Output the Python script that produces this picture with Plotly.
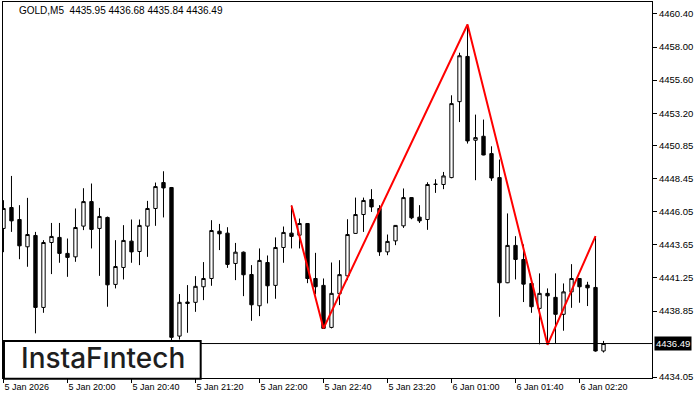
import plotly.graph_objects as go

# ---- data (GOLD, M5) ----
open_ = [4444.84, 4446.36, 4445.49, 4443.51, 4444.33, 4439.11, 4443.82, 4444.19, 4443.03, 4442.78,
         4445.01, 4446.79, 4444.84, 4445.64, 4440.78, 4442.01, 4443.92, 4443.17, 4445.01, 4446.29,
         4448.17, 4447.81, 4437.03, 4439.50, 4439.48, 4440.61, 4441.21, 4444.64, 4444.50, 4442.30,
         4443.12, 4441.50, 4439.23, 4442.37, 4440.71, 4443.46, 4444.50, 4444.35, 4445.20, 4441.21,
         4440.71, 4437.66, 4440.11, 4441.40, 4444.48, 4445.85, 4446.94, 4446.29, 4443.14, 4443.94,
         4445.03, 4447.08, 4445.66, 4445.49, 4448.03, 4448.03, 4448.53, 4454.04, 4457.32, 4451.24,
         4451.53, 4450.27, 4448.53, 4440.90, 4443.61, 4442.59, 4440.85, 4439.04, 4440.13, 4439.84,
         4438.61, 4440.24, 4441.21, 4440.73, 4440.56, 4435.95]
high_ = [4446.89, 4448.65, 4446.53, 4447.06, 4444.59, 4443.99, 4445.24, 4445.24, 4444.11, 4446.29,
         4447.76, 4448.10, 4446.33, 4445.70, 4443.99, 4445.08, 4445.49, 4445.49, 4446.84, 4448.17,
         4448.99, 4447.85, 4440.08, 4440.73, 4441.38, 4442.40, 4445.44, 4445.17, 4444.93, 4443.79,
         4443.17, 4442.18, 4443.39, 4442.88, 4444.19, 4444.98, 4446.51, 4445.56, 4445.22, 4443.07,
         4441.21, 4442.37, 4442.54, 4445.51, 4447.08, 4447.08, 4447.69, 4446.53, 4444.40, 4445.08,
         4447.74, 4447.10, 4446.53, 4448.19, 4448.41, 4448.94, 4454.50, 4457.59, 4459.64, 4453.10,
         4452.74, 4450.80, 4449.84, 4445.93, 4444.28, 4443.68, 4441.21, 4441.58, 4440.49, 4441.58,
         4440.85, 4442.25, 4441.24, 4440.97, 4444.28, 4436.68]
low_ = [4443.12, 4444.59, 4442.61, 4442.06, 4437.23, 4438.72, 4441.53, 4442.35, 4441.33, 4442.42,
        4444.72, 4443.39, 4441.40, 4439.16, 4440.49, 4441.14, 4442.35, 4442.18, 4442.78, 4445.03,
        4445.64, 4436.74, 4436.78, 4437.27, 4438.79, 4439.64, 4440.68, 4443.27, 4441.98, 4441.09,
        4439.93, 4438.14, 4438.48, 4439.40, 4439.74, 4442.35, 4443.39, 4443.39, 4440.87, 4440.06,
        4437.57, 4437.59, 4439.28, 4441.09, 4444.46, 4444.59, 4446.04, 4442.85, 4442.90, 4443.63,
        4444.88, 4445.51, 4445.24, 4444.74, 4447.42, 4447.69, 4448.48, 4452.56, 4451.00, 4448.34,
        4450.15, 4448.29, 4438.43, 4440.87, 4441.14, 4439.50, 4438.72, 4436.43, 4436.40, 4436.50,
        4437.42, 4439.08, 4439.45, 4439.21, 4435.90, 4435.84]
close_ = [4446.29, 4445.39, 4443.58, 4444.40, 4439.11, 4443.82, 4444.26, 4443.03, 4442.74, 4444.91,
          4446.79, 4444.77, 4445.71, 4440.75, 4442.08, 4443.97, 4443.14, 4445.06, 4446.29, 4447.88,
          4447.78, 4436.94, 4439.48, 4439.40, 4440.64, 4441.21, 4444.69, 4444.45, 4442.23, 4443.12,
          4441.48, 4439.30, 4442.52, 4440.68, 4443.46, 4444.55, 4444.26, 4445.20, 4441.21, 4440.61,
          4437.59, 4440.13, 4441.49, 4444.40, 4445.85, 4446.87, 4446.40, 4443.14, 4443.90, 4445.06,
          4447.08, 4445.61, 4445.39, 4448.03, 4448.05, 4448.65, 4453.90, 4457.37, 4451.19, 4451.43,
          4450.17, 4448.50, 4440.90, 4443.61, 4442.59, 4440.80, 4439.16, 4440.13, 4439.95, 4438.61,
          4440.24, 4441.21, 4440.61, 4440.53, 4435.95, 4436.49]

time_tick_bars = [0, 8, 16, 24, 32, 40, 48, 56, 64, 72]
time_tick_labels = ["5 Jan 2026", "5 Jan 20:00", "5 Jan 20:40", "5 Jan 21:20", "5 Jan 22:00",
                    "5 Jan 22:40", "5 Jan 23:20", "6 Jan 01:00", "6 Jan 01:40", "6 Jan 02:20"]

price_ticks = [4460.40, 4458.00, 4455.60, 4453.20, 4450.85, 4448.45, 4446.05,
               4443.65, 4441.25, 4438.85, 4434.05]
price_tick_labels = ["4460.40", "4458.00", "4455.60", "4453.20", "4450.85", "4448.45",
                     "4446.05", "4443.65", "4441.25", "4438.85", "4434.05"]

pattern_bars = [36, 40, 58, 68, 74]
pattern_prices = [4446.51, 4437.59, 4459.64, 4436.40, 4444.28]

last_price = 4436.49
header_text = "GOLD,M5\u00a0\u00a04435.95 4436.68 4435.84 4436.49"
logo_text = "InstaF\u0131ntech"

bars = list(range(len(open_)))

fig = go.Figure()
fig.add_trace(go.Candlestick(
    x=bars, open=open_, high=high_, low=low_, close=close_,
    increasing=dict(line=dict(color="black", width=1), fillcolor="white"),
    decreasing=dict(line=dict(color="black", width=1), fillcolor="black"),
    whiskerwidth=0, showlegend=False, hoverinfo="skip",
))
fig.add_trace(go.Scatter(
    x=pattern_bars, y=pattern_prices, mode="lines",
    line=dict(color="#ff0000", width=2), showlegend=False, hoverinfo="skip",
))

axis_font = dict(family="Liberation Sans, Arial, sans-serif", color="black")

fig.update_layout(
    width=700, height=400,
    margin=dict(l=3, r=48, t=2, b=22),
    paper_bgcolor="white", plot_bgcolor="white",
    showlegend=False,
    boxgap=0.4,
    xaxis=dict(
        range=[-0.06, 81.06], showgrid=False, zeroline=False,
        tickmode="array", tickvals=time_tick_bars, ticktext=time_tick_labels,
        ticks="outside", ticklen=4, tickcolor="black", tickwidth=1,
        ticklabelposition="outside right",
        tickfont=dict(size=9, **axis_font),
        showline=True, linecolor="black", linewidth=1, mirror=True,
        rangeslider=dict(visible=False), fixedrange=True,
    ),
    yaxis=dict(
        range=[4433.99, 4461.27], side="right", showgrid=False, zeroline=False,
        tickmode="array", tickvals=price_ticks, ticktext=price_tick_labels,
        ticks="outside", ticklen=4, tickcolor="black", tickwidth=1,
        tickfont=dict(size=9.5, **axis_font),
        showline=True, linecolor="black", linewidth=1, mirror=True, fixedrange=True,
    ),
    shapes=[
        dict(type="line", xref="paper", x0=0, x1=1, yref="y", y0=last_price, y1=last_price,
             line=dict(color="black", width=1), layer="above"),
        dict(type="rect", xref="paper", yref="paper", x0=0.0015, x1=0.3046, y0=-0.0019, y1=0.0984,
             line=dict(color="black", width=2), fillcolor="white", layer="above"),
    ],
    annotations=[
        dict(text=header_text, xref="paper", yref="paper", x=0.0216, y=0.977,
             xanchor="left", yanchor="middle", showarrow=False,
             font=dict(size=10, **axis_font)),
        dict(text=f"{last_price:.2f}", xref="paper", yref="y", x=1, y=last_price,
             xanchor="left", yanchor="middle", xshift=2, showarrow=False,
             bgcolor="black", borderpad=1,
             font=dict(size=9.5, family="Liberation Sans, Arial, sans-serif", color="white")),
        dict(text=logo_text, xref="paper", yref="paper", x=0.1545, y=0.0519,
             xanchor="center", yanchor="middle", showarrow=False,
             font=dict(size=28, family="Inter, Lato, sans-serif", color="#1e1e1e", weight=500)),
    ],
)

fig.write_html("out.html", config={"displayModeBar": False, "staticPlot": True},
               post_script="document.body.style.margin='0';document.body.style.overflow='hidden';")
